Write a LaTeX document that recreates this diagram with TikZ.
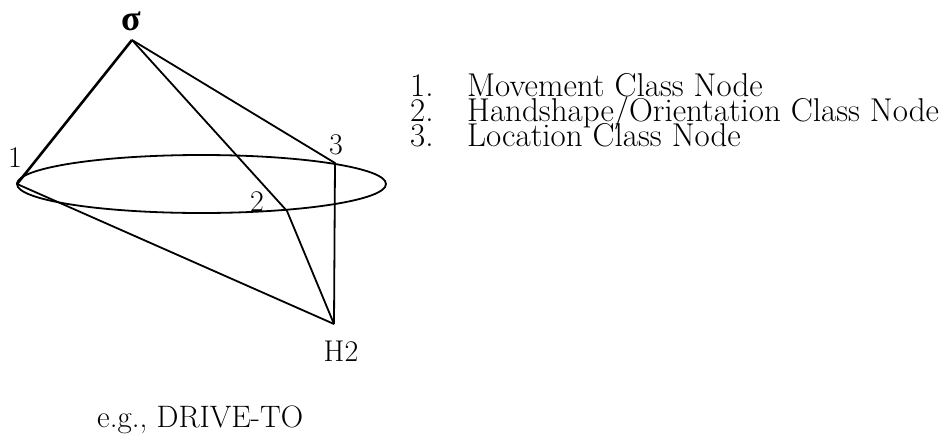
\documentclass[tikz,border=0pt]{standalone}
\usepackage{fontspec}
\usepackage{xcolor}
\usepackage{tikz}
\usetikzlibrary{positioning}
\newfontfamily\greekfont{Liberation Serif}
\tikzset{
  lbl/.style={font=\fontsize{30}{34}\selectfont, inner sep=0pt},
  leg/.style={font=\fontsize{33}{25}\selectfont, inner sep=0pt, anchor=base west},
  tie/.style={line width=1.8pt, line join=round},
  tiebold/.style={tie, line width=2.6pt},
}
\newcommand{\legnum}[1]{\makebox[57pt][l]{#1}}

\begin{document}
\begin{tikzpicture}[x=1pt, y=-1pt]
\useasboundingbox (0,0) rectangle (943,437);
% points of the cone
\coordinate (sigma) at (132,40);
\coordinate (n1) at (17,184);
\coordinate (n2) at (287,211);
\coordinate (n3) at (335,163);
\coordinate (h2) at (334,324);
\node[lbl, font=\greekfont\bfseries\fontsize{36}{38}\selectfont] (sigmalbl) at (131,21) {σ};
\node[lbl] (n1lbl) at (15,158) {1};
\node[lbl] (n2lbl) at (257,202) {2};
\node[lbl] (n3lbl) at (336,145) {3};
\node[lbl, anchor=north] (h2lbl) at (341,341) {H2};
% the plane
\draw[tie] (201.5,184) ellipse [x radius=184.5, y radius=29];
\draw[tiebold] (sigma) -- (n1);
\draw[tie] (sigma) -- (n3) -- (h2);
\draw[tie] (sigma) -- (n2) -- (h2);
\draw[tie] (n1) -- (h2);
% legend
\node[leg] (k1) at (410,96) {\legnum{1.}Movement Class Node};
\node[leg] (k2) at (410,121) {\legnum{2.}Handshape/Orientation Class Node};
\node[leg] (k3) at (410,146) {\legnum{3.}Location Class Node};
\node[leg, font=\fontsize{31}{34}\selectfont] (eg) at (97,427) {e.g., DRIVE-TO};
\end{tikzpicture}
\end{document}
